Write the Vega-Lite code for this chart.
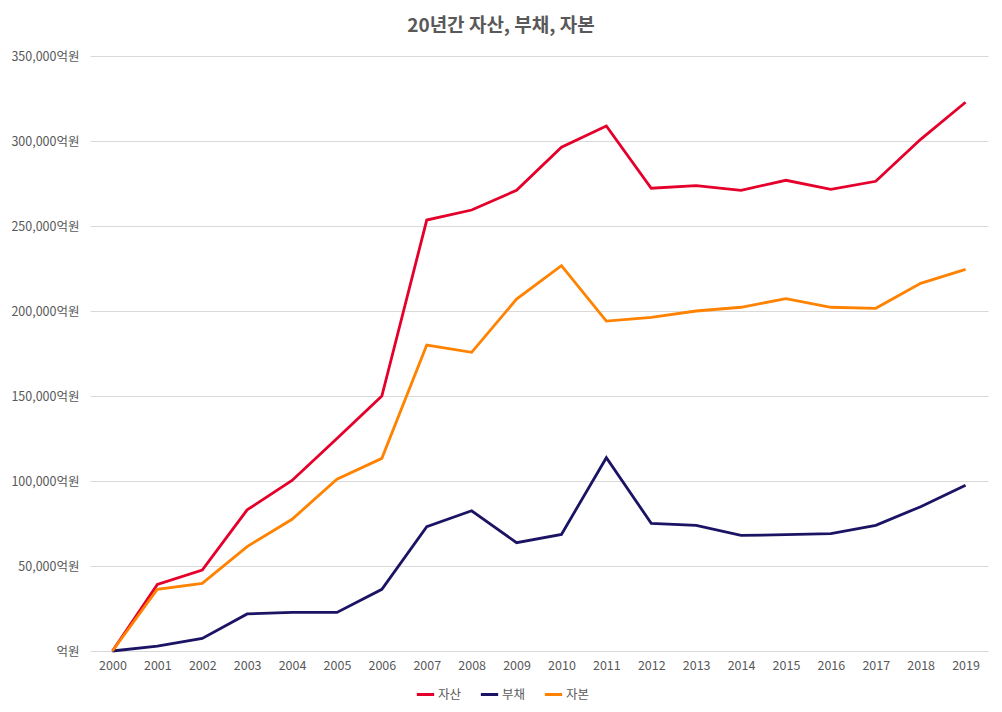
{
  "$schema": "https://vega.github.io/schema/vega-lite/v6.json",
  "width": 898,
  "height": 595,
  "autosize": "none",
  "padding": {"left": 90, "top": 56, "right": 14, "bottom": 61},
  "background": "white",
  "title": {
    "text": "20년간 자산, 부채, 자본",
    "fontSize": 19,
    "fontWeight": "bold",
    "color": "#595959",
    "font": "Noto Sans CJK KR",
    "anchor": "middle",
    "dx": -38,
    "offset": 14
  },
  "data": {
    "values": [
      {"year": "2000", "series": "자산", "value": 0},
      {"year": "2001", "series": "자산", "value": 39200},
      {"year": "2002", "series": "자산", "value": 47600},
      {"year": "2003", "series": "자산", "value": 83000},
      {"year": "2004", "series": "자산", "value": 100300},
      {"year": "2005", "series": "자산", "value": 125000},
      {"year": "2006", "series": "자산", "value": 150000},
      {"year": "2007", "series": "자산", "value": 253500},
      {"year": "2008", "series": "자산", "value": 259400},
      {"year": "2009", "series": "자산", "value": 271000},
      {"year": "2010", "series": "자산", "value": 296300},
      {"year": "2011", "series": "자산", "value": 308800},
      {"year": "2012", "series": "자산", "value": 272200},
      {"year": "2013", "series": "자산", "value": 273700},
      {"year": "2014", "series": "자산", "value": 271000},
      {"year": "2015", "series": "자산", "value": 276900},
      {"year": "2016", "series": "자산", "value": 271600},
      {"year": "2017", "series": "자산", "value": 276300},
      {"year": "2018", "series": "자산", "value": 301000},
      {"year": "2019", "series": "자산", "value": 322800},
      {"year": "2000", "series": "부채", "value": 0},
      {"year": "2001", "series": "부채", "value": 2900},
      {"year": "2002", "series": "부채", "value": 7400},
      {"year": "2003", "series": "부채", "value": 21800},
      {"year": "2004", "series": "부채", "value": 22700},
      {"year": "2005", "series": "부채", "value": 22700},
      {"year": "2006", "series": "부채", "value": 36300},
      {"year": "2007", "series": "부채", "value": 73100},
      {"year": "2008", "series": "부채", "value": 82500},
      {"year": "2009", "series": "부채", "value": 63700},
      {"year": "2010", "series": "부채", "value": 68600},
      {"year": "2011", "series": "부채", "value": 113700},
      {"year": "2012", "series": "부채", "value": 75100},
      {"year": "2013", "series": "부채", "value": 73900},
      {"year": "2014", "series": "부채", "value": 68000},
      {"year": "2015", "series": "부채", "value": 68400},
      {"year": "2016", "series": "부채", "value": 69000},
      {"year": "2017", "series": "부채", "value": 73900},
      {"year": "2018", "series": "부채", "value": 84900},
      {"year": "2019", "series": "부채", "value": 97500},
      {"year": "2000", "series": "자본", "value": 0},
      {"year": "2001", "series": "자본", "value": 36300},
      {"year": "2002", "series": "자본", "value": 39800},
      {"year": "2003", "series": "자본", "value": 61400},
      {"year": "2004", "series": "자본", "value": 77500},
      {"year": "2005", "series": "자본", "value": 101000},
      {"year": "2006", "series": "자본", "value": 113300},
      {"year": "2007", "series": "자본", "value": 180000},
      {"year": "2008", "series": "자본", "value": 175700},
      {"year": "2009", "series": "자본", "value": 207000},
      {"year": "2010", "series": "자본", "value": 226700},
      {"year": "2011", "series": "자본", "value": 194100},
      {"year": "2012", "series": "자본", "value": 196300},
      {"year": "2013", "series": "자본", "value": 200000},
      {"year": "2014", "series": "자본", "value": 202200},
      {"year": "2015", "series": "자본", "value": 207300},
      {"year": "2016", "series": "자본", "value": 202200},
      {"year": "2017", "series": "자본", "value": 201600},
      {"year": "2018", "series": "자본", "value": 216300},
      {"year": "2019", "series": "자본", "value": 224500}
    ]
  },
  "mark": {"type": "line", "strokeWidth": 2.8, "strokeJoin": "miter"},
  "encoding": {
    "x": {
      "field": "year",
      "type": "ordinal",
      "scale": {"type": "point", "padding": 0.5},
      "axis": {
        "title": null,
        "labelAngle": 0,
        "domain": false,
        "ticks": false,
        "grid": false,
        "labelPadding": 8,
        "labelFontSize": 12.5,
        "labelColor": "#595959",
        "labelFont": "Noto Sans CJK KR"
      }
    },
    "y": {
      "field": "value",
      "type": "quantitative",
      "scale": {"domain": [0, 350000], "nice": false},
      "axis": {
        "title": null,
        "values": [0, 50000, 100000, 150000, 200000, 250000, 300000, 350000],
        "labelExpr": "datum.value == 0 ? '억원' : format(datum.value, ',') + '억원'",
        "domain": false,
        "ticks": false,
        "labelPadding": 11,
        "labelFontSize": 12.5,
        "labelColor": "#595959",
        "labelFont": "Noto Sans CJK KR",
        "gridColor": "#D9D9D9",
        "gridWidth": 1
      }
    },
    "color": {
      "field": "series",
      "type": "nominal",
      "sort": ["자산", "부채", "자본"],
      "scale": {
        "domain": ["자산", "부채", "자본"],
        "range": ["#E4002B", "#1B1464", "#FF8200"]
      },
      "legend": {
        "title": null,
        "orient": "none",
        "direction": "horizontal",
        "legendX": 325,
        "legendY": 628,
        "symbolType": "stroke",
        "symbolStrokeWidth": 3,
        "symbolSize": 300,
        "labelFontSize": 12.5,
        "labelColor": "#595959",
        "labelFont": "Noto Sans CJK KR",
        "columnPadding": 12,
        "labelOffset": 2
      }
    }
  },
  "config": {
    "view": {"stroke": null}
  }
}
